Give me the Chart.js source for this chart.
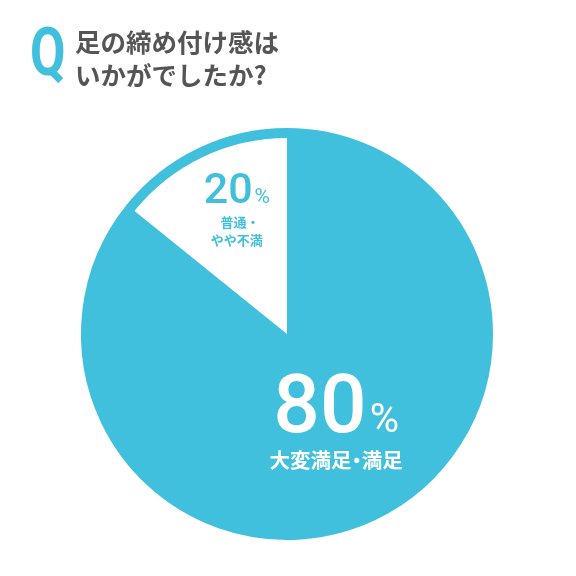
<!DOCTYPE html>
<html>
<head>
<meta charset="utf-8">
<script src="https://cdn.jsdelivr.net/npm/chart.js@4"></script>
<style>
  html, body { margin: 0; padding: 0; background: #fff; }
  .wrap { position: relative; width: 576px; height: 576px; }
  #pie { position: absolute; left: 0; top: 0; }
  .q {
    position: absolute; left: 30px; top: 20px;
    font-family: Roboto, "Liberation Sans", sans-serif; font-weight: 700;
    font-size: 66px; line-height: 65px; color: #40c0dd;
    transform: scaleX(0.78); transform-origin: left top;
  }
  .title {
    position: absolute; left: 75px; top: 24px;
    font-family: "Noto Sans CJK JP", sans-serif; font-weight: 700;
    font-size: 25.5px; line-height: 33px; color: #555;
  }
</style>
</head>
<body>
<div class="wrap">
  <canvas id="pie" width="576" height="576"></canvas>
  <div class="q">Q</div>
  <div class="title">足の締め付け感は<br>いかがでしたか?</div>
</div>
<script>
// slices in drawing order (clockwise from 12 o'clock)
const categories = ['大変満足・満足', '普通・やや不満'];
const sliceShares = [85.8, 14.2];          // share of circle as drawn
const percentNumbers = ['80', '20'];       // printed numbers
const subLabels = [['大変満足・満足'], ['普通・', 'やや不満']];

const BLUE = '#40c0dd';

// text anchors relative to pie centre, in units of radius
const labelAnchors = [
  { dx: 0.24, dy: 0.476, numSize: 82, pctSize: 40, subSize: 20.5, subGap: 36, lineH: 0, color: '#fff' },
  { dx: -0.245, dy: -0.641, numSize: 43, pctSize: 21, subSize: 13, subGap: 24, lineH: 18, color: BLUE }
];

// draw a line of CJK text centred on x, with the middle dot set half width
function drawSubLine(ctx, text, x, y, size) {
  const parts = text.split('・');
  const dotW = size * 0.5;
  const widths = parts.map(p => ctx.measureText(p).width);
  const total = widths.reduce((s, w) => s + w, 0) + dotW * (parts.length - 1);
  let cur = x - total / 2;
  ctx.textAlign = 'left';
  parts.forEach((p, k) => {
    ctx.fillText(p, cur, y);
    cur += widths[k];
    if (k < parts.length - 1) {
      ctx.textAlign = 'center';
      ctx.fillText('・', cur + dotW / 2, y);
      ctx.textAlign = 'left';
      cur += dotW;
    }
  });
}

const labelPlugin = {
  id: 'sliceLabels',
  afterDatasetsDraw(chart) {
    const ctx = chart.ctx;
    const arc = chart.getDatasetMeta(0).data[0];
    const cx = arc.x, cy = arc.y, r = arc.outerRadius;
    ctx.save();
    percentNumbers.forEach((num, i) => {
      const a = labelAnchors[i];
      const bx = cx + a.dx * r;
      const by = cy + a.dy * r;
      ctx.fillStyle = a.color;
      ctx.textBaseline = 'alphabetic';
      ctx.font = '500 ' + a.numSize + 'px Roboto, sans-serif';
      const nw = ctx.measureText(num).width;
      ctx.font = '400 ' + a.pctSize + 'px Roboto, sans-serif';
      const pw = ctx.measureText('%').width;
      const gap = a.numSize * 0.04;
      const x0 = bx - (nw + gap + pw) / 2;
      ctx.textAlign = 'left';
      ctx.font = '500 ' + a.numSize + 'px Roboto, sans-serif';
      ctx.fillText(num, x0, by);
      ctx.font = '400 ' + a.pctSize + 'px Roboto, sans-serif';
      ctx.fillText('%', x0 + nw + gap, by);
      ctx.font = '700 ' + a.subSize + 'px "Noto Sans CJK JP", sans-serif';
      subLabels[i].forEach((line, j) => {
        const ly = by + a.subGap + j * a.lineH;
        if (line.endsWith('・')) {
          ctx.textAlign = 'center';
          ctx.fillText(line, bx + a.subSize * 0.25, ly);
        } else {
          drawSubLine(ctx, line, bx, ly, a.subSize);
        }
      });
    });
    ctx.restore();
  }
};

new Chart(document.getElementById('pie'), {
  type: 'pie',
  data: {
    labels: categories,
    datasets: [
      { // thin outer rim, all blue
        data: sliceShares,
        backgroundColor: [BLUE, BLUE],
        borderColor: [BLUE, BLUE],
        borderWidth: 2,
        weight: 8
      },
      {
        data: sliceShares,
        backgroundColor: [BLUE, '#ffffff'],
        borderColor: [BLUE, '#ffffff'],
        borderWidth: [2, 0],
        weight: 198
      }
    ]
  },
  options: {
    responsive: false,
    animation: false,
    layout: { padding: { left: 81, right: 83, top: 128, bottom: 36 } },
    plugins: { legend: { display: false }, tooltip: { enabled: false } }
  },
  plugins: [labelPlugin]
});
</script>
</body>
</html>
